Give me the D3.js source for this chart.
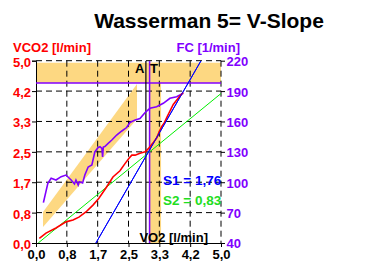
<!DOCTYPE html>
<html><head><meta charset="utf-8">
<script src="https://cdn.jsdelivr.net/npm/d3@7"></script>
<style>
html,body{margin:0;padding:0;background:#fff;}
svg{display:block;font-family:"Liberation Sans",Arial,sans-serif;font-weight:bold;}
</style></head>
<body><svg id="c" width="385" height="261"></svg>
<script>
// ---- data ----
const xTickLabels = ["0,0","0,8","1,7","2,5","3,3","4,2","5,0"];
const yLeftTickLabels = ["0,0","0,8","1,7","2,5","3,3","4,2","5,0"];
const yRightTickLabels = ["40","70","100","130","160","190","220"];
// VCO2 vs VO2 (l/min)
const redVO2  = [0.09,0.27,0.54,0.81,1.00,1.16,1.35,1.54,1.70,1.89,2.08,2.27,2.40,2.52,2.59,2.68,2.81,2.95,3.03,3.16,3.26,3.33,3.40,3.47,3.54,3.62,3.71,3.81,3.89,3.98];
const redVCO2 = [0.13,0.27,0.41,0.58,0.63,0.71,0.85,1.04,1.23,1.51,1.81,1.98,2.17,2.33,2.41,2.41,2.46,2.50,2.58,2.74,2.88,3.05,3.20,3.30,3.45,3.62,3.80,3.93,4.03,4.13];
// heart rate (FC) vs VO2
const hrVO2 = [0.20,0.32,0.41,0.54,0.68,0.81,0.95,1.04,1.08,1.14,1.17,1.26,1.32,1.41,1.51,1.59,1.68,1.73,1.78,1.80,1.82,1.86,1.95,2.05,2.18,2.32,2.45,2.54,2.68,2.81,2.95,3.08,3.26,3.44,3.62,3.80,3.94,3.98];
const hrFC  = [79.8,98.9,103.9,102.2,105.5,107.1,102.2,98.3,102.2,97.3,100.5,99.2,107.1,115.0,117.0,129.9,134.3,135.1,133.5,124.9,134.8,135.3,138.4,141.7,146.6,150.6,154.0,159.0,161.4,162.9,168.9,173.0,174.6,177.9,182.9,184.5,187.1,187.8];
// regression slopes
const s1 = {slope:1.76, intercept:-2.85, label:"S1 = 1,76"};
const s2 = {slope:0.83, intercept:-0.05, label:"S2 = 0,83"};
// threshold markers
const atVO2 = 2.97;
const hrMarkVO2 = 3.07;
const atBandVO2 = [3.05, 3.38];
const hrMaxBand = [198, 218];
// diagonal band (VO2, VCO2 lower/upper)
const bandVO2 = [0.19, 2.73];
const bandLow = [0.44, 3.40];
const bandHigh = [0.85, 4.36];

// ---- layout ----
const svg = d3.select("#c");
const L=36, R=221, T=60.7, B=243;
const x = d3.scaleLinear().domain([0,5]).range([L,R]);
const yL = d3.scaleLinear().domain([0,5]).range([B,T]);
const yR = d3.scaleLinear().domain([40,220]).range([B,T]);
const ticks = d3.range(7).map(i=>i*5/6);
const rTicks = d3.range(7).map(i=>40+i*30);
const YEL="#fdd882", PUR="#8000ff", RED="#ff0000", BLUE="#0000ff", GREEN="#00ee00";

// title
svg.append("text").attr("x",209).attr("y",28).attr("text-anchor","middle")
  .attr("font-size",21).attr("fill","#000").text("Wasserman 5= V-Slope");

// bands
svg.append("rect").attr("x",x(0)).attr("width",x(5)-x(0))
  .attr("y",yR(hrMaxBand[1])).attr("height",yR(hrMaxBand[0])-yR(hrMaxBand[1])).attr("fill",YEL);
svg.append("rect").attr("x",x(atBandVO2[0])).attr("width",x(atBandVO2[1])-x(atBandVO2[0]))
  .attr("y",yR(hrMaxBand[1])).attr("height",B-yR(hrMaxBand[1])).attr("fill",YEL);
const poly=[[bandVO2[0],bandHigh[0]],[bandVO2[1],bandHigh[1]],[bandVO2[1],bandLow[1]],[bandVO2[0],bandLow[0]]];
svg.append("path").attr("d","M"+poly.map(p=>[x(p[0]),yL(p[1])].join(",")).join("L")+"Z").attr("fill",YEL);

// grid
const g = svg.append("g").attr("stroke","#000").attr("stroke-width",1).attr("stroke-dasharray","6,4");
ticks.slice(1).forEach(t=>{
  g.append("line").attr("x1",x(t)).attr("x2",x(t)).attr("y1",T).attr("y2",B);
  g.append("line").attr("x1",L).attr("x2",R).attr("y1",yL(t)).attr("y2",yL(t));
});

// axes
const ax = svg.append("g").attr("transform",`translate(0,${B})`)
  .call(d3.axisBottom(x).tickValues(ticks).tickSize(4).tickPadding(3).tickFormat((d,i)=>xTickLabels[i]));
const ayl = svg.append("g").attr("transform",`translate(${L},0)`)
  .call(d3.axisLeft(yL).tickValues(ticks).tickSize(4).tickPadding(1).tickFormat((d,i)=>yLeftTickLabels[i]));
const ayr = svg.append("g").attr("transform",`translate(${R},0)`)
  .call(d3.axisRight(yR).tickValues(rTicks).tickSize(4).tickPadding(1.5).tickFormat((d,i)=>yRightTickLabels[i]));
[ax,ayl,ayr].forEach(a=>{a.attr("font-family",null).attr("font-size",13);a.selectAll("text").attr("font-weight","bold");});
ax.selectAll("text").attr("fill","#000");
ax.selectAll("line,path").attr("stroke","#000");
ayl.selectAll("text").attr("fill",RED).attr("dy","0.42em");
ayl.selectAll("line,path").attr("stroke","#000");
ayr.select("path").remove();
ayr.selectAll("text").attr("fill",PUR).attr("dy","0.38em");
ayr.selectAll("line").attr("stroke","#000");

// clip
svg.append("clipPath").attr("id","clip").append("rect").attr("x",L).attr("y",T).attr("width",R-L).attr("height",B-T);
const plot = svg.append("g").attr("clip-path","url(#clip)");

// hr max line & markers
plot.append("line").attr("x1",L).attr("x2",R).attr("y1",yR(hrMaxBand[0])).attr("y2",yR(hrMaxBand[0])).attr("stroke",PUR).attr("stroke-width",1.5);
plot.append("line").attr("x1",x(atVO2)).attr("x2",x(atVO2)).attr("y1",T).attr("y2",B).attr("stroke","#000").attr("stroke-width",1.2);
plot.append("line").attr("x1",x(hrMarkVO2)).attr("x2",x(hrMarkVO2)).attr("y1",T).attr("y2",B).attr("stroke",PUR).attr("stroke-width",1.5);

// regression lines
const lineFor=(s,col)=>{
  const x0=Math.max(0,-s.intercept/s.slope), x1=Math.min(5,(5-s.intercept)/s.slope);
  plot.append("line").attr("x1",x(x0)).attr("y1",yL(s.slope*x0+s.intercept)).attr("x2",x(x1)).attr("y2",yL(s.slope*x1+s.intercept))
    .attr("stroke",col).attr("stroke-width",1);
};
lineFor(s2,GREEN);
lineFor(s1,BLUE);

// data lines
plot.append("path").datum(hrVO2.map((v,i)=>[v,hrFC[i]]))
  .attr("d",d3.line().x(d=>x(d[0])).y(d=>yR(d[1]))).attr("fill","none").attr("stroke",PUR).attr("stroke-width",1.6);
plot.append("path").datum(redVO2.map((v,i)=>[v,redVCO2[i]]))
  .attr("d",d3.line().x(d=>x(d[0])).y(d=>yL(d[1]))).attr("fill","none").attr("stroke",RED).attr("stroke-width",1.6);
// blue over red at the end
lineFor(s1,BLUE);

// texts
svg.append("text").attr("x",13).attr("y",52).attr("font-size",13).attr("fill",RED).text("VCO2 [l/min]");
svg.append("text").attr("x",240).attr("y",52).attr("text-anchor","end").attr("font-size",13).attr("fill",PUR).text("FC [1/min]");
svg.append("text").attr("x",208).attr("y",241.5).attr("text-anchor","end").attr("font-size",13).attr("fill","#000").text("VO2 [l/min]");
svg.append("text").attr("x",x(atVO2)-1.5).attr("y",73).attr("text-anchor","end").attr("font-size",13).attr("fill","#000").text("A");
svg.append("text").attr("x",x(hrMarkVO2)+0.5).attr("y",73).attr("font-size",13).attr("fill","#000").text("T");
svg.append("text").attr("x",163).attr("y",184.5).attr("font-size",13.5).attr("fill",BLUE).text(s1.label);
svg.append("text").attr("x",163).attr("y",204.5).attr("font-size",13.5).attr("fill","#22dd22").text(s2.label);
</script></body></html>
